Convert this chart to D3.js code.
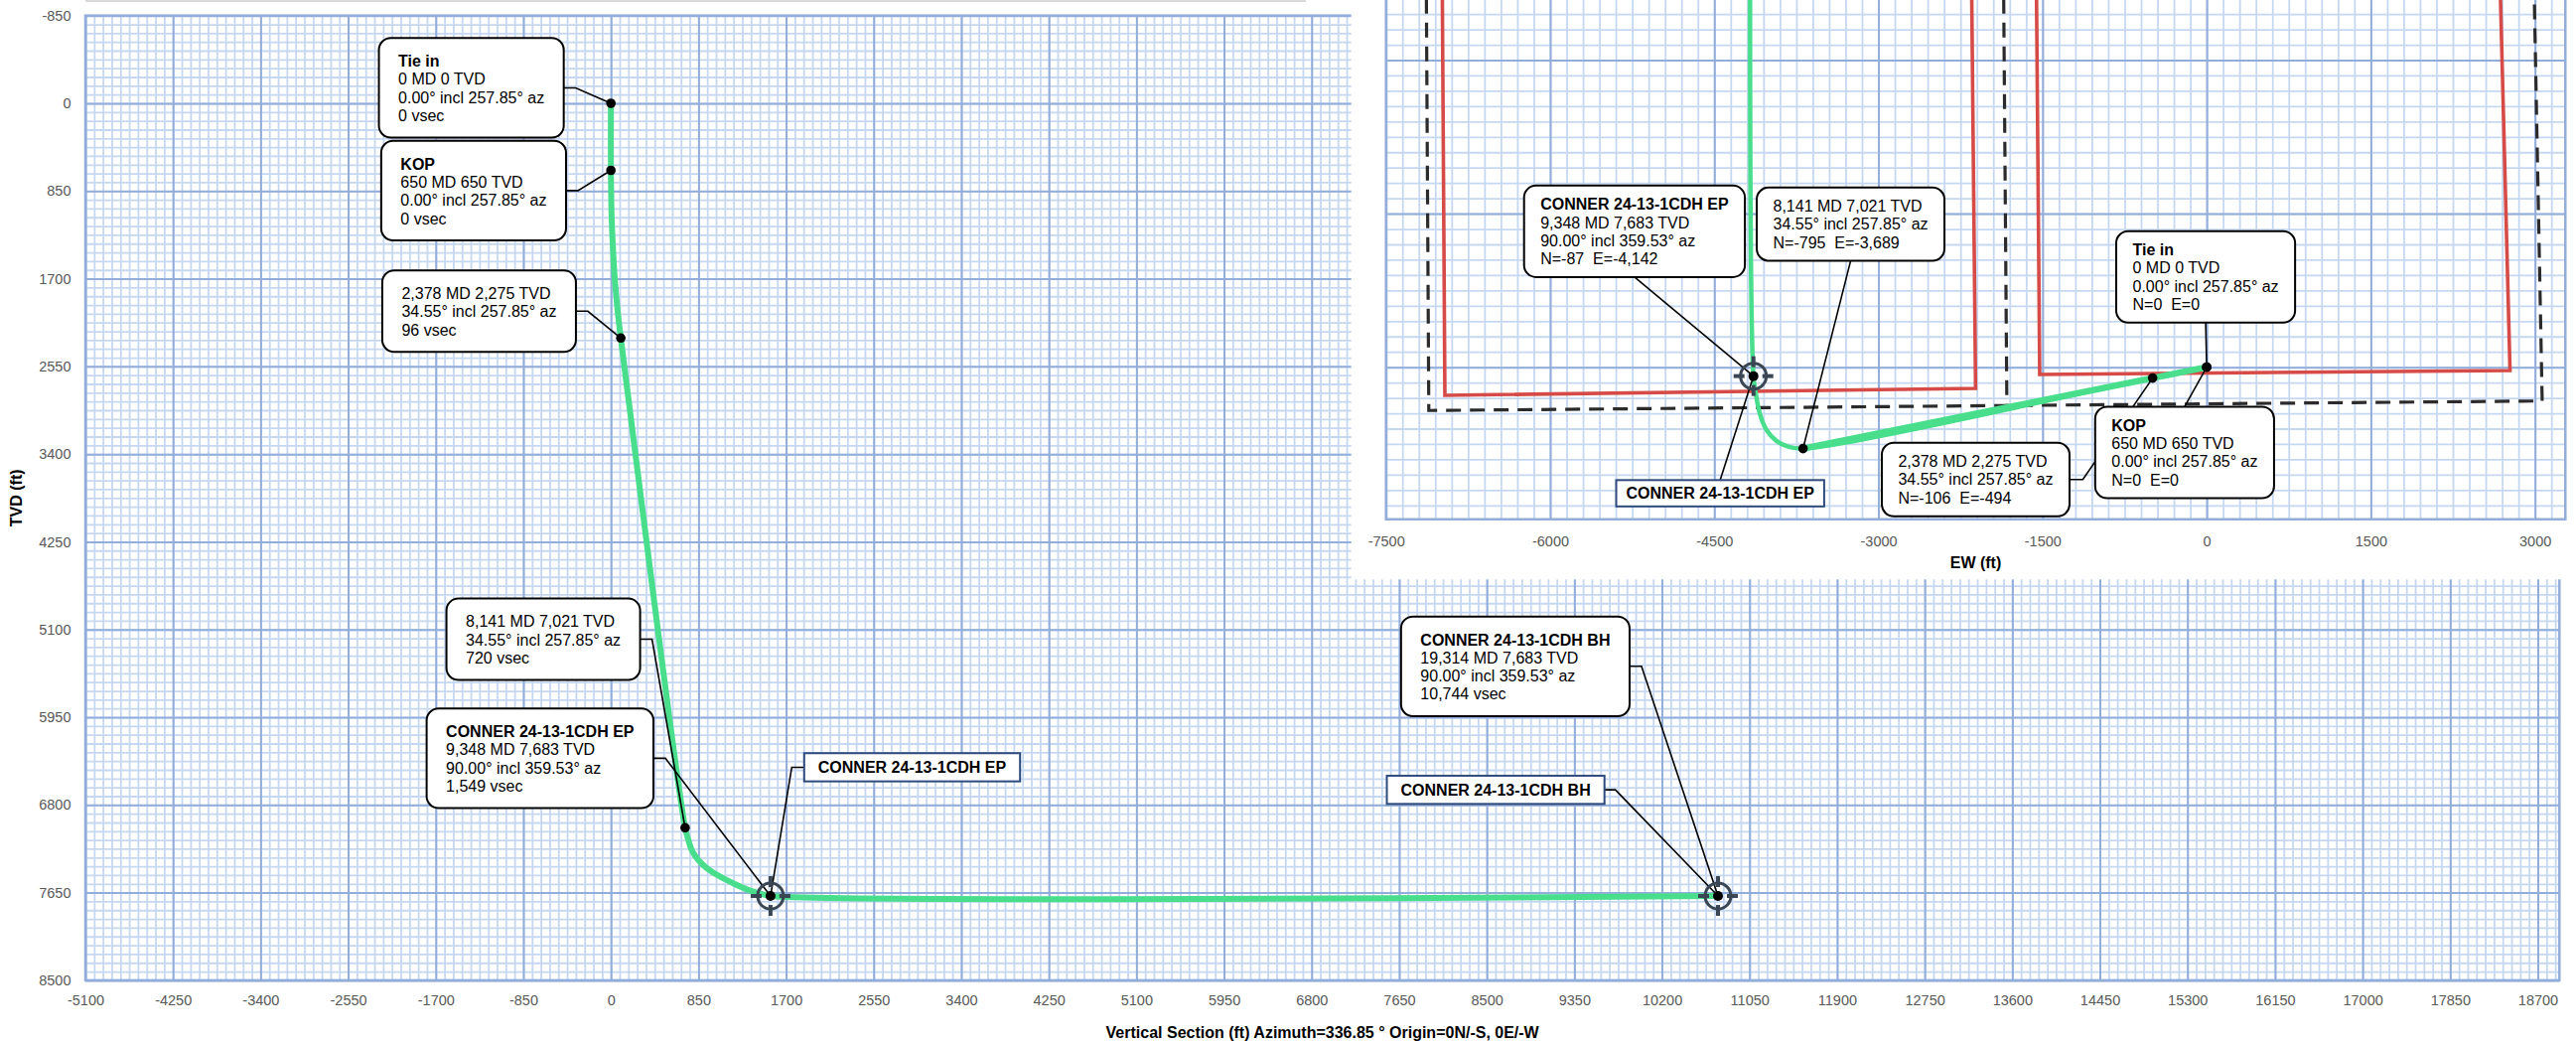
<!DOCTYPE html>
<html><head><meta charset="utf-8">
<script src="https://cdn.jsdelivr.net/npm/d3@7"></script>
<style>
html,body{margin:0;padding:0;background:#fff;}
svg{display:block;font-family:"Liberation Sans",Arial,Helvetica,sans-serif;}
text{white-space:pre;}
</style></head><body>
<svg id="chart" width="2594" height="1048"></svg>
<script>
// ---------------- data ----------------
const vsTicks = [-5100,-4250,-3400,-2550,-1700,-850,0,850,1700,2550,3400,4250,5100,5950,6800,7650,8500,9350,10200,11050,11900,12750,13600,14450,15300,16150,17000,17850,18700];
const tvdTicks = [-850,0,850,1700,2550,3400,4250,5100,5950,6800,7650,8500];
const ewTicks = [-7500,-6000,-4500,-3000,-1500,0,1500,3000];

// vertical section well path
const pathVsec = [0,0,7,21,42,72,96,720,744,787,852,938,1067,1196,1325,1454,1549,10744];
const pathTvd  = [0,650,1100,1430,1760,2075,2275,7021,7114,7243,7339,7419,7499,7564,7621,7660,7683,7683];

// plan view well path (EW, NS)
const planEW = [0,0,-494,-3689,-3825,-3932,-4025,-4082,-4118,-4142,-4173];
const planNS = [0,0,-106,-795,-776,-720,-608,-460,-275,-87,3700];

// survey stations
const stationTitle = ["Tie in","KOP","","","CONNER 24-13-1CDH EP","CONNER 24-13-1CDH BH"];
const stationMD    = [0,650,2378,8141,9348,19314];
const stationTVD   = [0,650,2275,7021,7683,7683];
const stationIncl  = [0,0,34.55,34.55,90,90];
const stationAz    = [257.85,257.85,257.85,257.85,359.53,359.53];
const stationVsec  = [0,0,96,720,1549,10744];
const stationN     = [0,0,-106,-795,-87];
const stationE     = [0,0,-494,-3689,-4142];
const targetNames  = ["CONNER 24-13-1CDH EP","CONNER 24-13-1CDH BH"];

// lease lines (red) and section lines (dashed) in plan view
const leaseWestEW = [-6985,-6962,-2112,-2147];
const leaseWestNS = [3600,-275,-207,3600];
const leaseEastEW = [-1555,-1526,2772,2685];
const leaseEastNS = [3600,-71,-32,3600];
const sectionEW = [-7131,-7109,3066,2994];
const sectionNS = [3600,-423,-330,3600];
const sectionMidEW = [-1855,-1826];
const sectionMidNS = [3600,-372];

// ---------------- setup ----------------
const svg = d3.select("#chart");
const loc = d3.formatLocale({decimal:".",thousands:",",grouping:[3],currency:["",""],minus:"-"});
const fmtC = loc.format(","), fmtD = loc.format("d"), fmt2 = loc.format(".2f");
const GREEN = "#48DE8C", MAJ = "#93ADDA", MIN = "#C6D8F1", TICK = "#595959", MARK = "#3A4654";

svg.append("rect").attr("width",2594).attr("height",1048).attr("fill","#fff");

function gridAxis(g, axis, tf, color, width){
  g.append("g").attr("transform",tf).call(axis)
   .call(s=>s.select(".domain").remove())
   .call(s=>s.selectAll("text").remove())
   .selectAll("line").attr("stroke",color).attr("stroke-width",width);
}
function labelAxis(g, axis, tf, size){
  const a = g.append("g").attr("transform",tf).call(axis);
  a.select(".domain").remove();
  a.selectAll("line").remove();
  a.selectAll("text").attr("fill",TICK).attr("font-size",size).attr("font-family",'"Liberation Sans",Arial,sans-serif');
  return a;
}
function drawBox(parent, lines, o){
  const g = parent.append("g");
  const rect = g.append("rect");
  const t = g.append("text").attr("font-size",16).attr("fill","#000");
  lines.forEach((l,k)=>t.append("tspan").attr("x",o.padX).attr("y",o.capTop+11.5+k*o.lineH)
      .attr("font-weight",l.bold?"bold":"normal").text(l.text));
  let w = 0;
  t.selectAll("tspan").each(function(){ w = Math.max(w,this.getComputedTextLength()); });
  const bw = w+2*o.padX, bh = o.capTop+11.5+(lines.length-1)*o.lineH+o.padBottom;
  rect.attr("width",bw).attr("height",bh).attr("rx",o.rx).attr("ry",o.rx)
      .attr("fill","#fff").attr("stroke",o.stroke).attr("stroke-width",o.strokeW);
  return {g, w:bw, h:bh};
}
function target(g, cx, cy){
  const m = g.append("g").attr("transform",`translate(${cx},${cy})`);
  m.append("circle").attr("r",13).attr("fill","none").attr("stroke",MARK).attr("stroke-width",3);
  [[1,0],[-1,0],[0,1],[0,-1]].forEach(([a,b])=>m.append("line")
    .attr("x1",a*9).attr("y1",b*9).attr("x2",a*20).attr("y2",b*20)
    .attr("stroke",MARK).attr("stroke-width",4));
  m.append("circle").attr("r",5).attr("fill","#000");
}
function leader(g, pts){
  g.append("path").attr("d",d3.line()(pts)).attr("fill","none").attr("stroke","#000").attr("stroke-width",1.6);
}
function mainLines(i){
  const a=[]; if(stationTitle[i]) a.push({text:stationTitle[i],bold:true});
  a.push({text:`${fmtC(stationMD[i])} MD ${fmtC(stationTVD[i])} TVD`});
  a.push({text:`${fmt2(stationIncl[i])}° incl ${fmt2(stationAz[i])}° az`});
  a.push({text:`${fmtC(stationVsec[i])} vsec`});
  return a;
}
function insetLines(i){
  const a=[]; if(stationTitle[i]) a.push({text:stationTitle[i],bold:true});
  a.push({text:`${fmtC(stationMD[i])} MD ${fmtC(stationTVD[i])} TVD`});
  a.push({text:`${fmt2(stationIncl[i])}° incl ${fmt2(stationAz[i])}° az`});
  a.push({text:`N=${fmtC(stationN[i])}  E=${fmtC(stationE[i])}`});
  return a;
}

// ---------------- main vertical section chart ----------------
const mx = d3.scaleLinear().domain([-5100,18910]).range([86,2577.3]);
const my = d3.scaleLinear().domain([-850,8500]).range([15.7,986.9]);
const [pL,pR] = mx.range(), [pT,pB] = my.range();
const gm = svg.append("g");

gridAxis(gm, d3.axisBottom(mx).tickValues(d3.range(-5100,18910,85)).tickSize(-(pB-pT)).tickFormat(""), `translate(0,${pB})`, MIN, 1.8);
gridAxis(gm, d3.axisLeft(my).tickValues(d3.range(-850,8501,85)).tickSize(-(pR-pL)).tickFormat(""), `translate(${pL},0)`, MIN, 1.8);
gridAxis(gm, d3.axisBottom(mx).tickValues(vsTicks).tickSize(-(pB-pT)).tickFormat(""), `translate(0,${pB})`, MAJ, 2);
gridAxis(gm, d3.axisLeft(my).tickValues(tvdTicks).tickSize(-(pR-pL)).tickFormat(""), `translate(${pL},0)`, MAJ, 2);
gm.append("rect").attr("x",pL).attr("y",pT).attr("width",pR-pL).attr("height",pB-pT)
  .attr("fill","none").attr("stroke",MAJ).attr("stroke-width",2.5);

labelAxis(gm, d3.axisBottom(mx).tickValues(vsTicks).tickSize(0).tickPadding(15).tickFormat(fmtD), `translate(0,${pB})`, 14.5);
labelAxis(gm, d3.axisLeft(my).tickValues(tvdTicks).tickSize(0).tickPadding(14.5).tickFormat(fmtD), `translate(${pL},0)`, 14.5);

gm.append("text").attr("x",(pL+pR)/2).attr("y",1044.7).attr("text-anchor","middle")
  .attr("font-weight","bold").attr("font-size",16).text("Vertical Section (ft) Azimuth=336.85 ° Origin=0N/-S, 0E/-W");
gm.append("text").attr("transform",`translate(16.5,${(pT+pB)/2}) rotate(-90)`).attr("text-anchor","middle")
  .attr("dy","0.35em").attr("font-weight","bold").attr("font-size",16).text("TVD (ft)");

// thin gray line at the very top
svg.append("line").attr("x1",86).attr("x2",1315).attr("y1",1).attr("y2",1).attr("stroke","#D9D9D9").attr("stroke-width",2);

gm.append("path").attr("d",d3.line().x(i=>mx(pathVsec[i])).y(i=>my(pathTvd[i])).curve(d3.curveCatmullRom.alpha(0.5))(d3.range(pathVsec.length)))
  .attr("fill","none").attr("stroke",GREEN).attr("stroke-width",6).attr("stroke-linejoin","round");

const mainCallouts = [
  {i:0, rx:-47.5, ty:-65.7}, {i:1, rx:-45.2, ty:-29.8}, {i:2, rx:-45.2, ty:-68},
  {i:3, rx:-45.3, ty:-230.7}, {i:4, rx:-117.9, ty:-188.8}, {i:5, rx:-89, ty:-281.4}
];
const mainTags = [{i:4, side:"left", ox:33.9, ty:-143.8}, {i:5, side:"right", ox:-114.3, ty:-121.1}];
const mainBoxOpt = {padX:19.5, capTop:17.4, lineH:18.3, padBottom:16.5, rx:12, stroke:"#000", strokeW:2};
const tagOpt = {padX:14, capTop:8.5, lineH:18, padBottom:8.4, rx:0, stroke:"#2E4A7D", strokeW:2};

const gLead = gm.append("g"), gMark = gm.append("g"), gBox = gm.append("g");
mainCallouts.forEach(c=>{
  const px = mx(stationVsec[c.i]), py = my(stationTVD[c.i]);
  const b = drawBox(gBox, mainLines(c.i), mainBoxOpt);
  const L = px+c.rx-b.w, T = py+c.ty;
  b.g.attr("transform",`translate(${L},${T})`);
  leader(gLead, [[L+b.w,T+b.h/2],[L+b.w+12,T+b.h/2],[px,py]]);
});
mainTags.forEach(c=>{
  const px = mx(stationVsec[c.i]), py = my(stationTVD[c.i]);
  const b = drawBox(gBox, [{text:stationTitle[c.i],bold:true}], tagOpt);
  if(c.side==="left"){
    const L = px+c.ox, T = py+c.ty;
    b.g.attr("transform",`translate(${L},${T})`);
    leader(gLead, [[L,T+b.h/2],[L-12.5,T+b.h/2],[px,py]]);
  } else {
    const L = px+c.ox-b.w, T = py+c.ty;
    b.g.attr("transform",`translate(${L},${T})`);
    leader(gLead, [[L+b.w,T+b.h/2],[L+b.w+11,T+b.h/2],[px,py]]);
  }
});
stationMD.forEach((d,i)=>{
  const px = mx(stationVsec[i]), py = my(stationTVD[i]);
  if(i>=4) target(gMark, px, py);
  else gMark.append("circle").attr("cx",px).attr("cy",py).attr("r",4.8).attr("fill","#000");
});

// ---------------- inset plan view ----------------
const gi = svg.append("g");
gi.append("rect").attr("x",1360.7).attr("y",0).attr("width",2594-1360.7).attr("height",583.3).attr("fill","#fff");
const ix = d3.scaleLinear().domain([-7500,3278]).range([1395.7,2583.3]);
const iy = d3.scaleLinear().domain([-1485,3587]).range([522.7,0]);
const [iL,iR] = ix.range(), [iB,iT] = iy.range();
svg.append("defs").append("clipPath").attr("id","insetClip").append("rect")
  .attr("x",iL).attr("y",0).attr("width",iR-iL).attr("height",iB);

gridAxis(gi, d3.axisBottom(ix).tickValues(d3.range(-7500,3278,150)).tickSize(-(iB-iT)).tickFormat(""), `translate(0,${iB})`, MIN, 1.8);
gridAxis(gi, d3.axisLeft(iy).tickValues(d3.range(-1350,3600,150)).tickSize(-(iR-iL)).tickFormat(""), `translate(${iL},0)`, MIN, 1.8);
gridAxis(gi, d3.axisBottom(ix).tickValues(ewTicks).tickSize(-(iB-iT)).tickFormat(""), `translate(0,${iB})`, MAJ, 2);
gridAxis(gi, d3.axisLeft(iy).tickValues([0,1500,3000]).tickSize(-(iR-iL)).tickFormat(""), `translate(${iL},0)`, MAJ, 2);
gi.append("path").attr("d",`M${iL},0V${iB}H${iR}V0`).attr("fill","none").attr("stroke",MAJ).attr("stroke-width",2.5);

labelAxis(gi, d3.axisBottom(ix).tickValues(ewTicks).tickSize(0).tickPadding(17.2).tickFormat(fmtD), `translate(0,${iB})`, 14.5);
gi.append("text").attr("x",(iL+iR)/2).attr("y",571.7).attr("text-anchor","middle")
  .attr("font-weight","bold").attr("font-size",16).text("EW (ft)");

const gic = gi.append("g").attr("clip-path","url(#insetClip)");
const pl = (E,N)=>d3.line().x(i=>ix(E[i])).y(i=>iy(N[i]))(d3.range(E.length));
gic.append("path").attr("d",pl(leaseWestEW,leaseWestNS)).attr("fill","none").attr("stroke","#D64B47").attr("stroke-width",3.6);
gic.append("path").attr("d",pl(leaseEastEW,leaseEastNS)).attr("fill","none").attr("stroke","#D64B47").attr("stroke-width",3.6);
gic.append("path").attr("d",pl(sectionEW,sectionNS)).attr("fill","none").attr("stroke","#2B2B2B").attr("stroke-width",3.2).attr("stroke-dasharray","15,9");
gic.append("path").attr("d",pl(sectionMidEW,sectionMidNS)).attr("fill","none").attr("stroke","#2B2B2B").attr("stroke-width",3.2).attr("stroke-dasharray","15,9");

gic.append("path").attr("d",d3.line().x(i=>ix(planEW[i])).y(i=>iy(planNS[i])).curve(d3.curveCatmullRom.alpha(0.5))(d3.range(planEW.length)))
  .attr("fill","none").attr("stroke",GREEN).attr("stroke-width",4.5).attr("stroke-linejoin","round");
gic.append("path").attr("d",d3.line().x(i=>ix(planEW[i])).y(i=>iy(planNS[i]))(d3.range(4)))
  .attr("fill","none").attr("stroke",GREEN).attr("stroke-width",6.5).attr("stroke-linecap","round");

const insetCallouts = [
  {i:0, ox:-91.1, ty:-137, lead:"bottom"}, {i:1, ox:-112.3, ty:39.8, lead:"top"},
  {i:2, ox:-272.7, ty:65.2, lead:"right"}, {i:3, ox:-46.6, ty:-262.9, lead:"bottom"},
  {i:4, ox:-231, ty:-191.8, lead:"bottom"}
];
const insetTag = {i:4, ox:-138.2, ty:104.7};
const insetBoxOpt = {padX:16.5, capTop:13, lineH:18.2, padBottom:13, rx:12, stroke:"#000", strokeW:2};
const insetTagOpt = {padX:10, capTop:7.5, lineH:18, padBottom:7.5, rx:0, stroke:"#2E4A7D", strokeW:2};

const giLead = gi.append("g"), giMark = gi.append("g"), giBox = gi.append("g");
insetCallouts.forEach(c=>{
  const px = ix(stationE[c.i]), py = iy(stationN[c.i]);
  const b = drawBox(giBox, insetLines(c.i), insetBoxOpt);
  const L = px+c.ox, T = py+c.ty;
  b.g.attr("transform",`translate(${L},${T})`);
  if(c.lead==="bottom") leader(giLead, [[L+b.w/2,T+b.h],[px,py]]);
  else if(c.lead==="top") leader(giLead, [[L+b.w/2,T],[px,py]]);
  else leader(giLead, [[L+b.w,T+b.h/2],[L+b.w+13.4,T+b.h/2],[px,py]]);
});
{
  const c = insetTag, px = ix(stationE[c.i]), py = iy(stationN[c.i]);
  const b = drawBox(giBox, [{text:targetNames[0],bold:true}], insetTagOpt);
  const L = px+c.ox, T = py+c.ty;
  b.g.attr("transform",`translate(${L},${T})`);
  leader(giLead, [[L+b.w/2,T],[px,py]]);
}
stationN.forEach((d,i)=>{
  const px = ix(stationE[i]), py = iy(stationN[i]);
  if(i===4) target(giMark, px, py);
  else giMark.append("circle").attr("cx",px).attr("cy",py).attr("r",4.8).attr("fill","#000");
});
</script>
</body></html>
